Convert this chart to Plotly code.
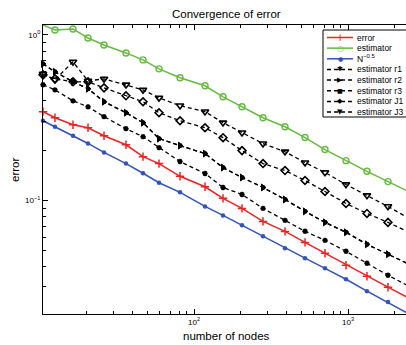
import plotly.graph_objects as go

# ---------------- data ----------------
nodes = [10.46, 12.51, 16.38, 20.50, 26.04, 36.17, 46.66, 59.26, 81.14, 117.9,
         154.3, 205.0, 280.6, 389.9, 525.8, 708.9, 970.5, 1328, 1818, 2489]

err_vals = [0.344, 0.316, 0.287, 0.275, 0.246, 0.217, 0.184, 0.167, 0.140, 0.121,
            0.103, 0.0895, 0.0747, 0.0650, 0.0558, 0.0480, 0.0406, 0.0348, 0.0299, 0.0257]

estimator_vals = [1.149, 1.072, 1.087, 0.959, 0.870, 0.779, 0.707, 0.624, 0.551, 0.493,
                  0.423, 0.368, 0.316, 0.279, 0.240, 0.203, 0.174, 0.150, 0.130, 0.113]

rate_vals = [0.303, 0.279, 0.246, 0.221, 0.195, 0.167, 0.146, 0.128, 0.112, 0.0920,
             0.0812, 0.0707, 0.0607, 0.0514, 0.0448, 0.0389, 0.0334, 0.0283, 0.0243, 0.0206]

est_r1 = [0.500, 0.466, 0.400, 0.368, 0.321, 0.2715, 0.2429, 0.2086, 0.1718, 0.1455,
          0.1198, 0.1087, 0.0895, 0.0758, 0.0651, 0.0574, 0.0493, 0.0417, 0.0353, 0.0303]

est_r2 = [0.669, 0.599, 0.521, 0.473, 0.395, 0.339, 0.295, 0.2363, 0.2145, 0.1919,
          0.1580, 0.1376, 0.1198, 0.1014, 0.0859, 0.0737, 0.0642, 0.0543, 0.0473, 0.0412]

est_r3 = [0.669, 0.599, 0.521, 0.473, 0.395, 0.339, 0.295, 0.2363, 0.2145, 0.1919,
          0.1580, 0.1376, 0.1198, 0.1014, 0.0859, 0.0737, 0.0642, 0.0543, 0.0473, 0.0412]

est_J1 = [0.574, 0.543, 0.521, 0.521, 0.479, 0.429, 0.395, 0.339, 0.303, 0.275,
          0.2396, 0.2001, 0.1671, 0.1516, 0.1320, 0.1133, 0.0959, 0.0835, 0.0737, 0.0642]

est_J3 = [0.582, 0.536, 0.688, 0.528, 0.543, 0.500, 0.466, 0.417, 0.374, 0.344,
          0.295, 0.257, 0.2205, 0.197, 0.1694, 0.1475, 0.1249, 0.1072, 0.0920, 0.0779]

series_names = ["error", "estimator", "N<sup>\u22120.5</sup>", "estimator r1",
                "estimator r2", "estimator r3", "estimator J1", "estimator J3"]

x_major = [100, 1000]
x_major_text = ["10<sup>2</sup>", "10<sup>3</sup>"]
x_minor = [20, 30, 40, 50, 60, 70, 80, 90, 200, 300, 400, 500, 600, 700, 800, 900, 2000]
y_major = [0.1, 1]
y_major_text = ["10<sup>\u22121</sup>", "10<sup>0</sup>"]
y_minor = [0.03, 0.04, 0.05, 0.06, 0.07, 0.08, 0.09, 0.2, 0.3, 0.4, 0.5, 0.6, 0.7, 0.8, 0.9]

# ---------------- styling ----------------
W, H = 406, 345
PL, PR, PT, PB = 43, 406, 25, 314
FONT = "Liberation Sans, Arial, Helvetica, sans-serif"
RED, GREEN, BLUE, BLACK = "#EE2222", "#66BB3F", "#3353B8", "#000000"
DASH = "4px,3px"


def pxx(x):
    return (x - PL) / (PR - PL)


def pxy(y):
    return (PB - y) / (PB - PT)


fig = go.Figure()

solid = [
    (err_vals, RED, dict(symbol="cross-thin", size=6, line=dict(color=RED, width=1.5))),
    (estimator_vals, GREEN, dict(symbol="circle-open", size=6, line=dict(color=GREEN, width=1.4))),
    (rate_vals, BLUE, dict(symbol="circle", size=4.5, color=BLUE)),
]
for (vals, col, mk), name in zip(solid, series_names[:3]):
    fig.add_trace(go.Scatter(x=nodes, y=vals, mode="lines+markers", name=name,
                             line=dict(color=col, width=1.5), marker=mk,
                             cliponaxis=False, showlegend=False))

dashed = [
    (est_r1, dict(symbol="asterisk-open", size=4.5, line=dict(color=BLACK, width=1.5))),
    (est_r3, dict(symbol="square", size=4, color=BLACK)),
    (est_r2, dict(symbol="triangle-right", size=6, color=BLACK, line=dict(color=BLACK, width=1))),
    (est_J1, dict(symbol="diamond-open", size=6, color=BLACK, line=dict(color=BLACK, width=1.6))),
    (est_J3, dict(symbol="triangle-down-open", size=6.5, color=BLACK, line=dict(color=BLACK, width=1.6))),
]
dnames = [series_names[3], series_names[5], series_names[4], series_names[6], series_names[7]]
for (vals, mk), name in zip(dashed, dnames):
    fig.add_trace(go.Scatter(x=nodes, y=vals, mode="lines+markers", name=name,
                             line=dict(color=BLACK, width=1.3, dash=DASH), marker=mk,
                             cliponaxis=False, showlegend=False))

axis_common = dict(type="log", showgrid=False, zeroline=False, showline=True,
                   linecolor=BLACK, linewidth=1, ticks="inside", tickcolor=BLACK,
                   ticklen=5, tickwidth=1, tickfont=dict(family=FONT, size=8, color=BLACK))

fig.update_xaxes(**axis_common, range=[1.0195, 3.3766], tickvals=x_major, ticktext=x_major_text,
                 mirror="ticks",
                 minor=dict(tickvals=x_minor, ticks="inside", ticklen=3, tickcolor=BLACK, tickwidth=1))
fig.update_yaxes(**axis_common, range=[-1.6862, 0.0603], tickvals=y_major, ticktext=y_major_text,
                 minor=dict(tickvals=y_minor, ticks="inside", ticklen=3, tickcolor=BLACK, tickwidth=1))

annotations = [
    dict(text="Convergence of error", x=pxx(226), y=pxy(14), xref="paper", yref="paper",
         showarrow=False, xanchor="center", yanchor="middle",
         font=dict(family=FONT, size=11.5, color=BLACK)),
    dict(text="number of nodes", x=pxx(226), y=pxy(336), xref="paper", yref="paper",
         showarrow=False, xanchor="center", yanchor="middle",
         font=dict(family=FONT, size=11.5, color=BLACK)),
    dict(text="error", x=pxx(15), y=pxy(170), xref="paper", yref="paper", textangle=-90,
         showarrow=False, xanchor="center", yanchor="middle",
         font=dict(family=FONT, size=11.5, color=BLACK)),
]

# ---------------- hand-built legend (compact like the reference) ----------------
shapes = [dict(type="rect", xref="paper", yref="paper", x0=pxx(323), x1=pxx(430),
               y0=pxy(117), y1=pxy(30), line=dict(color=BLACK, width=1),
               fillcolor="white", layer="above")]
leg_colors = [RED, GREEN, BLUE, BLACK, BLACK, BLACK, BLACK, BLACK]
leg_dash = ["solid", "solid", "solid", DASH, DASH, DASH, DASH, DASH]
leg_glyph = ["+", "\u25cb", "\u25cf", "\u2731", "\u25b6", "\u25a0", "\u25c6", "\u25bc"]
leg_gsize = [10, 8, 6, 7, 7, 6, 7, 7]
row0, step = 37.5, 10.65
for i, name in enumerate(series_names):
    yc = row0 + i * step
    shapes.append(dict(type="line", xref="paper", yref="paper", x0=pxx(327), x1=pxx(353),
                       y0=pxy(yc), y1=pxy(yc), layer="above",
                       line=dict(color=leg_colors[i], width=1.5, dash=leg_dash[i])))
    annotations.append(dict(text=leg_glyph[i], x=pxx(340), y=pxy(yc), xref="paper", yref="paper",
                            showarrow=False, xanchor="center", yanchor="middle",
                            font=dict(family="DejaVu Sans", size=leg_gsize[i], color=leg_colors[i])))
    annotations.append(dict(text=name, x=pxx(355), y=pxy(yc), xref="paper", yref="paper",
                            showarrow=False, xanchor="left", yanchor="middle",
                            font=dict(family=FONT, size=8.5, color=BLACK)))

fig.update_layout(width=W, height=H, margin=dict(l=PL, r=W - PR, t=PT, b=H - PB),
                  paper_bgcolor="white", plot_bgcolor="white", showlegend=False,
                  annotations=annotations, shapes=shapes)

fig.write_html("out.html", config={"displayModeBar": False},
               post_script="document.body.style.margin='0';document.body.style.overflow='hidden';")
